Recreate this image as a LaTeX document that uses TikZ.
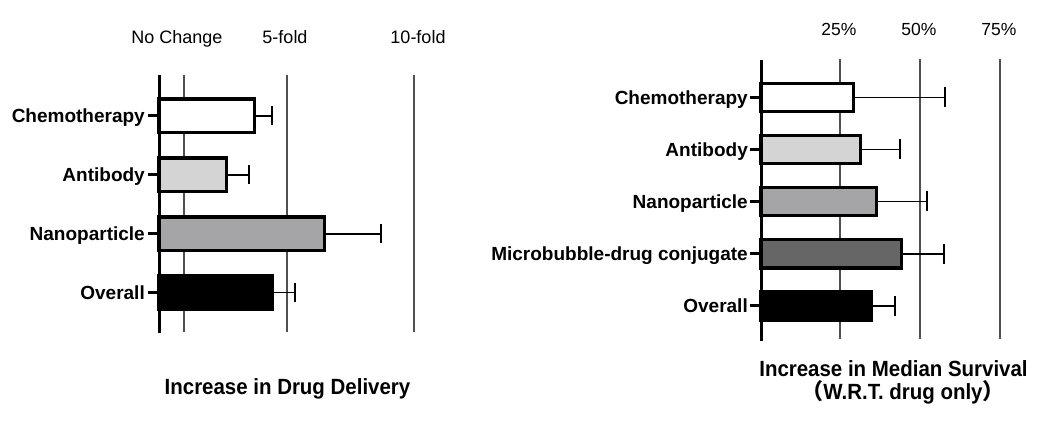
\documentclass[tikz,border=0pt]{standalone}
\usepackage{fontspec}
\setmainfont{Liberation Sans}
\newfontfamily\cjk{Noto Sans CJK SC}
\newfontfamily\titlefont[FakeStretch=0.93]{Liberation Sans}
\usepackage{tikz}
\definecolor{gridgray}{RGB}{80,80,80}
\definecolor{antibodygray}{RGB}{212,212,212}
\definecolor{nanogray}{RGB}{165,165,168}
\definecolor{microgray}{RGB}{102,102,102}

\begin{document}
\begin{tikzpicture}[x=1pt, y=-1pt,
	gridline/.style={draw=gridgray, line width=1.8pt},
	axisline/.style={draw=black, line width=3pt},
	bar/.style={draw=black, line width=3.2pt},
	errbar/.style={draw=black, line width=1.3pt},
	catlabel/.style={font=\bfseries\fontsize{19}{19}\selectfont, anchor=base east, inner sep=0pt},
	toplabel/.style={font=\fontsize{18}{18}\selectfont, anchor=base, inner sep=0pt},
	title/.style={font=\titlefont\bfseries\fontsize{22}{22}\selectfont, anchor=base, inner sep=0pt}]
	\useasboundingbox (0,0) rectangle (1050,435);
	% drug delivery panel
	\draw [gridline] (184,75) -- (184,332);
	\draw [gridline] (287,75) -- (287,332);
	\draw [gridline] (414,75) -- (414,332);
	\draw [axisline] (159,75) -- (159,333);
	\node [toplabel] (noChange) at (177,44) {No Change};
	\node [toplabel] (fiveFold) at (285,44) {5-fold};
	\node [toplabel] (tenFold) at (418,44) {10-fold};
	\filldraw [bar, fill=white] (159,99.1) rectangle (254.4,132.9);
	\filldraw [bar, fill=antibodygray] (159,158.1) rectangle (226.4,191.9);
	\filldraw [bar, fill=nanogray] (159,217.1) rectangle (324.4,250.9);
	\filldraw [bar, fill=black] (159,275.6) rectangle (272.4,309.4);
	\draw [errbar] (256,116) -- (272,116) (272,106.5) -- (272,125.5);
	\draw [errbar] (228,175) -- (249,175) (249,165.5) -- (249,184.5);
	\draw [errbar] (326,234) -- (381,234) (381,224.5) -- (381,243.5);
	\draw [errbar] (274,292.5) -- (295,292.5) (295,283) -- (295,302);
	\draw [axisline] (148,116) -- (159,116);
	\draw [axisline] (148,175) -- (159,175);
	\draw [axisline] (148,234) -- (159,234);
	\draw [axisline] (148,292.5) -- (159,292.5);
	\node [catlabel] (chemoL) at (145,123) {Chemotherapy};
	\node [catlabel] (antibodyL) at (145,182) {Antibody};
	\node [catlabel] (nanoL) at (145,241) {Nanoparticle};
	\node [catlabel] (overallL) at (145,299.5) {Overall};
	\node [title] (deliveryTitle) at (287.5,395) {Increase in Drug Delivery};
	% median survival panel
	\draw [gridline, line width=1.5pt] (840,59) -- (840,339);
	\draw [gridline, line width=1.5pt] (920,59) -- (920,339);
	\draw [gridline, line width=2.2pt] (1000,59) -- (1000,339);
	\draw [axisline] (761,60) -- (761,341);
	\node [toplabel, font=\fontsize{17.5}{17.5}\selectfont] (pctA) at (839,36) {25\%};
	\node [toplabel, font=\fontsize{17.5}{17.5}\selectfont] (pctB) at (919,36) {50\%};
	\node [toplabel, font=\fontsize{17.5}{17.5}\selectfont] (pctC) at (999,36) {75\%};
	\filldraw [bar, fill=white] (761,83.4) rectangle (853.4,111.6);
	\filldraw [bar, fill=antibodygray] (761,135.4) rectangle (860.4,163.6);
	\filldraw [bar, fill=nanogray] (761,187.4) rectangle (876.4,215.6);
	\filldraw [bar, fill=microgray] (761,239.9) rectangle (901.4,268.1);
	\filldraw [bar, fill=black] (761,291.9) rectangle (871.4,320.1);
	\draw [errbar] (855,97.5) -- (945,97.5) (945,87.5) -- (945,107.5);
	\draw [errbar] (862,149.5) -- (900,149.5) (900,139.5) -- (900,159.5);
	\draw [errbar] (878,201.5) -- (927,201.5) (927,191.5) -- (927,211.5);
	\draw [errbar] (903,254) -- (944,254) (944,244) -- (944,264);
	\draw [errbar] (873,306) -- (895,306) (895,296) -- (895,316);
	\draw [axisline] (750,97.5) -- (761,97.5);
	\draw [axisline] (750,149.5) -- (761,149.5);
	\draw [axisline] (750,201.5) -- (761,201.5);
	\draw [axisline] (750,254) -- (761,254);
	\draw [axisline] (750,306) -- (761,306);
	\node [catlabel] (chemoR) at (748,104.5) {Chemotherapy};
	\node [catlabel] (antibodyR) at (748,156.5) {Antibody};
	\node [catlabel] (nanoR) at (748,208.5) {Nanoparticle};
	\node [catlabel] (microR) at (748,261) {Microbubble-drug conjugate};
	\node [catlabel] (overallR) at (748,313) {Overall};
	\node [title] (survivalTitle) at (893.5,377) {Increase in Median Survival};
	\node [title] (survivalNote) at (903,400) {{\cjk （}W.R.T. drug only{\cjk ）}};
\end{tikzpicture}
\end{document}
